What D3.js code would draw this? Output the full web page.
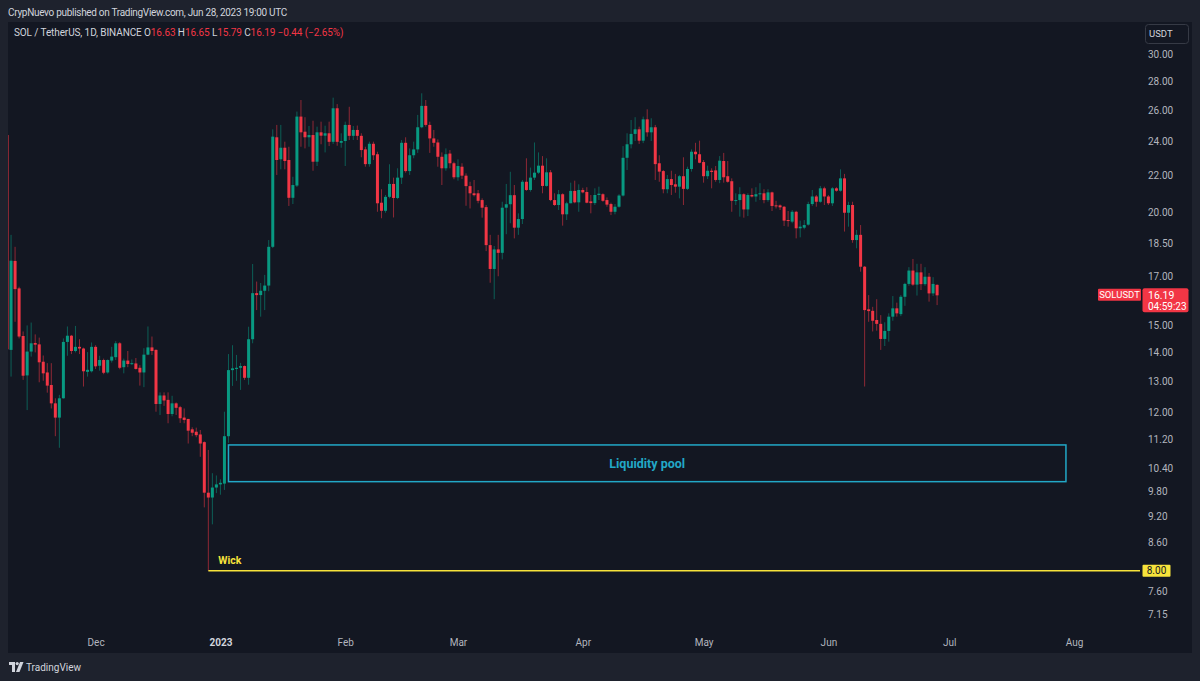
<!DOCTYPE html>
<html><head><meta charset="utf-8">
<script src="https://cdn.jsdelivr.net/npm/d3@7"></script>
<style>
body{margin:0;background:#1e222d;}
svg{display:block;font-family:Roboto,"Liberation Sans",Arial,sans-serif;}
</style>
</head><body>
<svg id="chart" width="1200" height="681"></svg>
<script>
// ---------- DATA (SOL/USDT daily) ----------
const firstDate = "2022-11-09"; // one candle per consecutive day
const openP = [
24.40,14.08,17.68,16.48,14.59,13.19,14.02,14.33,14.28,13.66,13.29,12.87,12.28,11.84,12.44,14.37,14.60,14.04,14.19,14.13,13.31,13.33,
14.19,13.52,13.72,13.29,13.70,13.82,14.32,13.47,13.70,13.58,13.60,13.45,13.29,13.91,14.17,14.08,12.26,12.53,12.39,11.95,12.28,12.16,11.84,11.80,11.49,11.42,11.34,11.12,9.77,9.65,9.90,
9.98,10.00,11.29,13.37,13.41,13.45,13.51,13.11,14.47,16.28,16.20,16.38,16.60,18.33,24.26,22.93,23.62,22.89,20.78,21.44,25.58,24.61,24.26,24.40,22.79,24.57,24.36,24.51,23.98,26.13,23.92,
24.03,25.04,24.35,24.72,24.35,23.52,22.65,23.86,23.23,20.52,20.10,20.83,21.53,20.77,21.88,23.92,22.25,23.17,23.52,24.89,26.29,25.04,24.19,23.94,23.08,22.41,23.27,22.70,
21.90,22.50,21.99,21.41,21.02,21.02,20.66,20.29,18.41,17.32,18.21,18.05,20.26,20.44,20.92,19.25,19.68,21.65,21.20,21.88,22.16,22.56,21.42,22.18,20.66,20.40,20.97,19.92,20.49,21.15,20.54,
21.20,21.09,20.59,20.50,20.93,20.97,20.66,20.45,20.05,20.31,20.90,23.02,23.83,24.47,24.76,24.05,25.40,24.57,24.89,22.70,22.25,21.24,21.80,21.51,21.38,21.96,21.26,22.37,23.38,23.23,
22.77,21.96,22.27,22.29,21.75,22.83,21.96,21.68,20.62,20.66,20.97,20.17,20.93,20.85,20.97,21.02,20.66,21.07,20.38,20.38,20.31,19.63,19.55,20.05,19.22,19.25,19.40,20.45,20.85,20.57,21.29,
20.85,20.49,21.29,21.16,21.84,20.00,20.40,18.65,18.90,17.42,15.62,15.56,15.20,15.05,14.48,14.78,15.33,15.66,15.43,16.13,16.67,17.25,16.64,17.17,16.66,16.98,16.27,16.63];
const highP = [
24.90,18.90,18.33,16.55,14.76,14.99,15.10,14.65,14.53,13.88,13.61,13.61,12.44,12.55,14.50,14.95,14.63,14.97,14.47,14.16,14.00,14.35,
14.25,13.87,13.77,13.74,14.19,14.40,14.36,13.77,14.04,13.74,13.79,13.54,14.14,14.95,14.57,14.10,12.63,12.63,12.63,12.52,12.31,12.20,12.12,11.80,11.55,11.54,11.47,11.14,10.90,10.27,10.21,
10.11,12.02,13.93,14.25,13.90,13.62,13.53,14.94,17.54,16.77,16.71,17.06,18.65,24.76,25.04,25.04,23.99,23.68,21.93,25.91,26.69,25.54,24.97,25.31,24.93,25.25,24.99,25.25,26.85,26.41,24.51,
25.25,26.23,24.97,25.00,24.51,23.68,23.99,23.99,23.38,21.24,20.93,22.64,21.88,22.41,24.09,24.26,23.58,23.99,25.69,27.15,26.69,25.25,24.72,24.13,23.34,23.58,23.48,22.79,
22.93,22.70,22.12,21.65,21.75,21.20,20.75,20.40,18.90,18.37,18.90,20.57,21.53,22.21,21.47,19.97,21.75,22.99,22.45,23.94,23.34,23.12,22.99,22.31,21.02,21.20,21.02,20.57,21.60,21.71,21.51,
21.32,21.35,20.93,21.29,21.38,21.02,20.80,20.52,20.45,20.97,23.72,24.51,25.36,25.54,24.93,25.58,26.06,25.47,25.04,23.17,22.31,22.03,22.27,22.09,22.03,23.05,22.50,23.52,23.92,24.05,
22.89,22.56,22.41,22.54,23.12,23.31,22.83,21.84,21.02,21.35,21.02,21.02,21.29,21.35,21.57,21.24,21.24,21.11,20.62,20.43,20.35,20.09,20.14,20.10,19.60,19.63,20.57,21.20,20.93,21.42,21.38,
20.93,21.35,21.35,22.35,22.09,20.57,20.57,19.14,19.38,17.45,16.20,15.72,16.03,15.39,15.11,15.46,16.16,15.89,16.20,16.72,17.40,17.77,17.55,17.55,17.40,17.14,16.96,16.65];
const lowP = [
13.60,13.15,15.13,14.50,13.04,12.07,13.84,13.99,12.96,13.01,12.62,12.12,11.29,10.96,12.43,13.87,13.93,13.99,13.93,12.82,13.15,13.29,
13.41,13.35,13.23,13.25,13.63,13.72,13.40,13.26,13.47,13.55,13.39,12.85,12.80,13.89,13.90,12.02,11.92,12.20,11.67,11.88,11.92,11.68,11.67,11.08,11.29,11.26,10.71,9.41,8.00,9.01,9.76,
9.72,9.84,11.10,12.84,13.01,12.71,13.04,12.88,14.32,15.59,15.33,15.59,16.36,18.27,22.03,22.35,22.35,20.35,20.45,21.36,23.68,23.58,23.68,22.27,22.54,23.83,23.34,23.72,23.85,23.74,23.62,
22.54,24.09,24.09,24.09,23.05,22.50,22.50,22.89,20.05,19.72,20.00,20.75,19.76,20.71,21.53,22.16,22.03,22.99,23.31,24.83,24.93,23.31,23.68,22.50,21.47,22.27,22.41,21.79,
21.71,21.80,20.36,20.22,20.85,20.49,19.75,18.13,16.72,16.03,17.00,17.75,18.93,19.47,18.73,18.90,19.43,21.15,21.11,21.75,22.09,21.02,21.38,20.60,20.35,20.14,19.35,19.63,20.49,20.49,20.05,
21.02,20.49,19.97,20.40,20.66,20.57,20.31,19.88,19.92,20.26,20.85,22.31,23.58,24.03,23.85,23.90,24.30,24.03,21.75,21.65,21.02,21.02,20.93,21.05,20.75,20.40,21.20,22.22,22.93,22.70,
21.60,21.80,21.29,21.65,21.57,21.60,21.60,20.05,20.40,19.80,19.75,19.83,20.80,20.57,20.66,20.49,20.57,20.09,20.22,20.14,19.33,19.30,19.47,18.73,18.78,19.17,19.35,20.35,20.31,20.52,20.40,
20.40,20.35,21.11,21.11,19.06,19.30,18.52,18.26,17.20,12.82,15.13,14.76,14.79,14.08,14.22,14.38,15.17,15.33,15.35,15.76,16.59,16.59,16.18,16.41,16.59,15.93,16.16,15.79];
const closeP = [
14.10,17.69,16.45,14.57,13.18,14.02,14.32,14.27,13.64,13.26,12.85,12.28,11.84,12.44,14.37,14.60,14.04,14.19,14.13,13.33,13.38,14.19,
13.50,13.72,13.28,13.72,13.84,14.32,13.45,13.70,13.58,13.61,13.41,13.29,13.91,14.17,14.04,12.26,12.53,12.37,11.95,12.28,12.14,11.82,11.77,11.45,11.39,11.32,11.08,9.77,9.65,9.90,9.98,
10.02,11.29,13.37,13.43,13.45,13.51,13.11,14.47,16.28,16.20,16.38,16.60,18.33,24.30,22.89,23.62,22.83,20.78,21.47,25.58,24.57,24.26,24.40,22.79,24.57,24.36,24.51,23.98,26.13,23.98,24.03,
25.04,24.35,24.72,24.35,23.48,22.65,23.86,23.17,20.49,20.10,20.83,21.53,20.77,21.88,23.92,22.25,23.17,23.52,24.89,26.29,25.04,24.19,23.92,23.08,22.41,23.23,22.70,21.90,
22.54,21.99,21.41,21.02,20.92,20.62,20.26,18.41,17.32,18.21,18.05,20.26,20.44,20.92,19.25,19.68,21.65,21.20,21.88,22.16,22.56,21.42,22.18,20.66,20.40,20.97,19.92,20.49,21.15,20.54,21.20,
21.07,20.52,20.50,20.93,21.00,20.62,20.42,20.05,20.31,20.90,23.02,23.83,24.47,24.76,24.05,25.40,24.57,24.89,22.65,22.22,21.24,21.80,21.47,21.38,21.96,21.26,22.37,23.38,23.23,22.73,
21.96,22.27,22.20,21.75,22.85,21.90,21.65,20.62,20.66,20.97,20.17,20.93,20.85,20.97,21.02,20.66,21.07,20.35,20.33,20.28,19.60,19.58,20.05,19.22,19.30,19.38,20.45,20.85,20.57,21.29,20.85,
20.49,21.29,21.16,21.84,20.00,20.40,18.65,18.90,17.42,15.59,15.55,15.17,15.05,14.48,14.78,15.33,15.66,15.46,16.13,16.67,17.25,16.64,17.17,16.66,16.98,16.27,16.67,16.19];

const priceTicks = [30,28,26,24,22,20,18.5,17,15,14,13,12,11.2,10.4,9.8,9.2,8.6,7.6,7.15];
const monthTickDates = ["2022-12-01","2023-01-01","2023-02-01","2023-03-01","2023-04-01","2023-05-01","2023-06-01","2023-07-01","2023-08-01"];
const monthLabels = ["Dec","2023","Feb","Mar","Apr","May","Jun","Jul","Aug"];
const poolFrom = "2023-01-03", poolTo = "2023-07-30", poolLow = 10.05, poolHigh = 11.04, poolLabel = "Liquidity pool";
const wickDate = "2022-12-29", wickLevel = 8.00, wickLabel = "Wick";
const lastClose = 16.19, countdown = "04:59:23", symbolTag = "SOLUSDT";
const headerText = "CrypNuevo published on TradingView.com, Jun 28, 2023 19:00 UTC";
const legendTitle = "SOL / TetherUS, 1D, BINANCE";
const legendOHLC = [["O","16.63"],["H","16.65"],["L","15.79"],["C","16.19"]];
const legendChange = "\u22120.44 (\u22122.65%)";

// ---------- BUILD ----------
const parse = d3.utcParse("%Y-%m-%d");
const day0 = parse(firstDate);
const candles = openP.map((o,i)=>({date:d3.utcDay.offset(day0,i),o,h:highP[i],l:lowP[i],c:closeP[i]}));

const W=1200,H=681;
const plot = {x0:8, x1:1140, y0:22, y1:632};
const UP="#089981", DOWN="#f23645", TXT="#b2b5be";

const x = d3.scaleUtc().domain([parse("2022-12-01"),parse("2023-08-01")]).range([95.6,1074]);
const y = d3.scaleLog().domain([7.15,30]).range([614.7,54.3]);

const svg = d3.select("#chart");
svg.append("rect").attr("width",W).attr("height",H).attr("fill","#1e222d");
svg.append("rect").attr("x",8).attr("y",22).attr("width",1184).attr("height",631).attr("fill","#131722");

const defs = svg.append("defs");
defs.append("clipPath").attr("id","clipPlot").append("rect")
  .attr("x",plot.x0).attr("y",plot.y0).attr("width",plot.x1-plot.x0).attr("height",plot.y1-plot.y0);

const g = svg.append("g").attr("clip-path","url(#clipPlot)");
const bw = 3;
const cg = g.selectAll("g.c").data(candles).join("g").attr("class","c");
cg.append("line")
  .attr("x1",d=>x(d.date)).attr("x2",d=>x(d.date))
  .attr("y1",d=>y(d.h)).attr("y2",d=>y(d.l))
  .attr("stroke",d=>d.c>=d.o?UP:DOWN).attr("stroke-opacity",0.55).attr("stroke-width",1);
cg.append("rect")
  .attr("x",d=>x(d.date)-bw/2).attr("width",bw)
  .attr("y",d=>y(Math.max(d.o,d.c)))
  .attr("height",d=>Math.max(1,Math.abs(y(d.o)-y(d.c))))
  .attr("fill",d=>d.c>=d.o?UP:DOWN);

// Liquidity pool box
const CY="#22a8c7";
const bx0=x(parse(poolFrom)), bx1=x(parse(poolTo)), by0=y(poolHigh), by1=y(poolLow);
g.append("rect").attr("x",bx0).attr("y",by0).attr("width",bx1-bx0).attr("height",by1-by0)
  .attr("fill","none").attr("stroke",CY).attr("stroke-width",1.5);
g.append("text").attr("x",(bx0+bx1)/2).attr("y",(by0+by1)/2).attr("dy","0.35em")
  .attr("text-anchor","middle").attr("fill",CY).attr("font-size",12.5).attr("font-weight",700).text(poolLabel);

// Wick level
const YEL="#f7e33b";
const wx=x(parse(wickDate)), wy=y(wickLevel);
svg.append("line").attr("x1",wx).attr("x2",plot.x1).attr("y1",wy).attr("y2",wy).attr("stroke",YEL).attr("stroke-width",1.5);
svg.append("text").attr("x",wx+10).attr("y",wy-10).attr("dy","0.35em").attr("fill",YEL)
  .attr("font-size",10.5).attr("font-weight",700).text(wickLabel);

// Price axis
const yAxis = d3.axisRight(y).tickValues(priceTicks).tickFormat(d3.format(".2f")).tickSize(0).tickPadding(0);
const ya = svg.append("g").attr("transform","translate(1148,0)").call(yAxis);
ya.select(".domain").remove();
ya.selectAll("text").attr("fill",TXT).attr("font-size",10).attr("font-family","Roboto, Arial, sans-serif");

// Time axis
const xAxis = d3.axisBottom(x).tickValues(monthTickDates.map(parse)).tickFormat((d,i)=>monthLabels[i]).tickSize(0).tickPadding(6);
const xa = svg.append("g").attr("transform","translate(0,633)").call(xAxis);
xa.select(".domain").remove();
xa.selectAll("text").attr("fill",(d,i)=>i===1?"#d1d4dc":TXT).attr("font-weight",(d,i)=>i===1?700:400)
  .attr("font-size",10).attr("font-family","Roboto, Arial, sans-serif");

// 8.00 level label
svg.append("rect").attr("x",1142.5).attr("y",wy-6).attr("width",28).attr("height",12).attr("rx",1).attr("fill",YEL);
svg.append("text").attr("x",1156.5).attr("y",wy).attr("dy","0.35em").attr("text-anchor","middle")
  .attr("fill","#131722").attr("font-size",10).text(d3.format(".2f")(wickLevel));

// Last price label
const ly=y(lastClose);
svg.append("rect").attr("x",1142.5).attr("y",ly-7).attr("width",46).attr("height",24).attr("rx",2).attr("fill",DOWN);
svg.append("text").attr("x",1148).attr("y",ly).attr("dy","0.35em").attr("fill","#fff").attr("font-size",10.5).text(d3.format(".2f")(lastClose));
svg.append("text").attr("x",1148).attr("y",ly+11).attr("dy","0.35em").attr("fill","#fff").attr("font-size",10).text(countdown);
svg.append("rect").attr("x",1098).attr("y",ly-6.5).attr("width",43).attr("height",12).attr("rx",1).attr("fill",DOWN);
svg.append("text").attr("x",1119.5).attr("y",ly-0.5).attr("dy","0.35em").attr("text-anchor","middle").attr("fill","#fff")
  .attr("font-size",9.5).text(symbolTag);

// USDT box
svg.append("rect").attr("x",1145.5).attr("y",24.5).attr("width",43).attr("height",19).attr("rx",3)
  .attr("fill","#131722").attr("stroke","#363a45");
svg.append("text").attr("x",1149).attr("y",34).attr("dy","0.35em").attr("fill","#d1d4dc").attr("font-size",9.5).text("USDT");

// Header & legend
svg.append("text").attr("x",8).attr("y",12).attr("dy","0.35em").attr("fill","#d1d4dc").attr("font-size",10)
  .attr("letter-spacing",-0.3).text(headerText);
const lg = svg.append("text").attr("x",14).attr("y",32).attr("dy","0.35em").attr("font-size",10).attr("letter-spacing",-0.1);
lg.append("tspan").attr("fill","#d1d4dc").text(legendTitle+"  ");
legendOHLC.forEach(([k,v])=>{
  lg.append("tspan").attr("fill","#d1d4dc").text(" "+k);
  lg.append("tspan").attr("fill",DOWN).text(v+" ");
});
lg.append("tspan").attr("fill",DOWN).text(" "+legendChange);

// Footer logo
const lgG = svg.append("g").attr("transform","translate(9,662)");
lgG.append("path").attr("d","M0 0 H6 V10 H3 V3 H0 Z").attr("fill","#d1d4dc");
lgG.append("circle").attr("cx",8.2).attr("cy",1.6).attr("r",1.6).attr("fill","#d1d4dc");
lgG.append("path").attr("d","M11 0 H14.5 L10.5 10 H7 Z").attr("fill","#d1d4dc");
svg.append("text").attr("x",26).attr("y",667).attr("dy","0.35em").attr("fill","#d1d4dc").attr("font-size",10).text("TradingView");
</script>
</body></html>
